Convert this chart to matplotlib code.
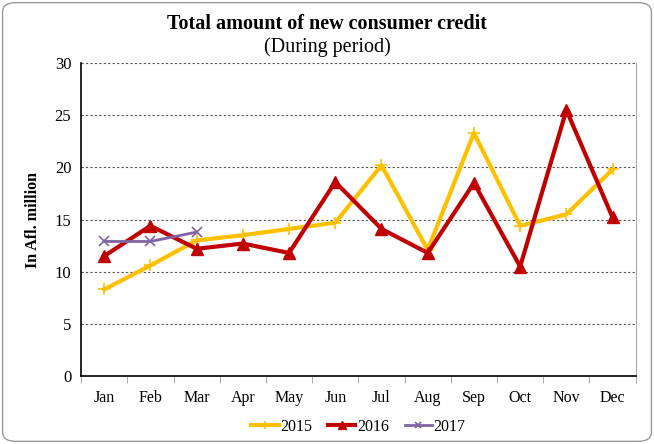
import matplotlib
matplotlib.use("Agg")
import matplotlib.pyplot as plt
from matplotlib.patches import FancyBboxPatch
import numpy as np

months = ["Jan", "Feb", "Mar", "Apr", "May", "Jun", "Jul", "Aug", "Sep", "Oct", "Nov", "Dec"]
v2015 = [8.3, 10.6, 13.0, 13.5, 14.1, 14.7, 20.2, 12.1, 23.3, 14.4, 15.5, 19.8]
v2016 = [11.5, 14.4, 12.2, 12.7, 11.8, 18.6, 14.1, 11.8, 18.5, 10.5, 25.5, 15.2]
v2017 = [12.9, 12.9, 13.8]

plt.rcParams['font.family'] = ['Liberation Serif', 'DejaVu Serif']

fig = plt.figure(figsize=(6.54, 4.44), dpi=100)
ax = fig.add_axes([0.124, 0.153, 0.848, 0.705])

x = np.arange(len(months))
ax.plot(x, v2015, color='#FFC000', lw=3, marker='+', ms=9, mew=1.2, label='2015', zorder=3)
ax.plot(x, v2016, color='#C00000', lw=3, marker='^', ms=9, label='2016', zorder=4)
ax.plot(x[:len(v2017)], v2017, color='#8064A2', lw=2, marker='x', ms=7, mew=1.2, label='2017', zorder=5)

ax.set_xlim(-0.5, 11.5)
ax.set_ylim(0, 30)
ax.set_yticks(range(0, 31, 5))
ax.set_xticks(x)
ax.set_xticklabels(months)
ax.set_xticks(np.arange(-0.5, 12, 1), minor=True)
ax.tick_params(axis='x', which='major', length=0, pad=10, labelsize=11.5)
ax.tick_params(axis='x', which='minor', length=5, color='#999999')
ax.tick_params(axis='y', length=0, pad=7, labelsize=12)
ax.yaxis.grid(True, linestyle=(0, (2, 2)), color='#555555', lw=0.8)
ax.set_axisbelow(True)
ax.spines['top'].set_visible(False)
ax.spines['right'].set_color('#AAAAAA')
ax.spines['left'].set_color('black')
ax.spines['bottom'].set_color('black')
ax.spines['left'].set_linewidth(1.2)
ax.spines['bottom'].set_linewidth(1.2)
ax.set_ylabel('In Afl. million', fontweight='bold', fontsize=11.5, labelpad=10)

fig.text(0.5, 0.945, 'Total amount of new consumer credit', ha='center', va='center',
         fontsize=14.5, fontweight='bold')
fig.text(0.5, 0.893, '(During period)', ha='center', va='center', fontsize=14.5)

ax.legend(loc='center', bbox_to_anchor=(0.5, -0.163), ncol=3, frameon=False,
          fontsize=11.5, handlelength=1.7, handletextpad=0.1, columnspacing=1.0,
          markerscale=0.6, bbox_transform=ax.transAxes)

border = FancyBboxPatch((0.004, 0.006), 0.992, 0.988, boxstyle='round,pad=0,rounding_size=0.02',
                        transform=fig.transFigure, fill=False, edgecolor='#999999', lw=1)
fig.patches.append(border)

fig.savefig('out.png', dpi=100)
